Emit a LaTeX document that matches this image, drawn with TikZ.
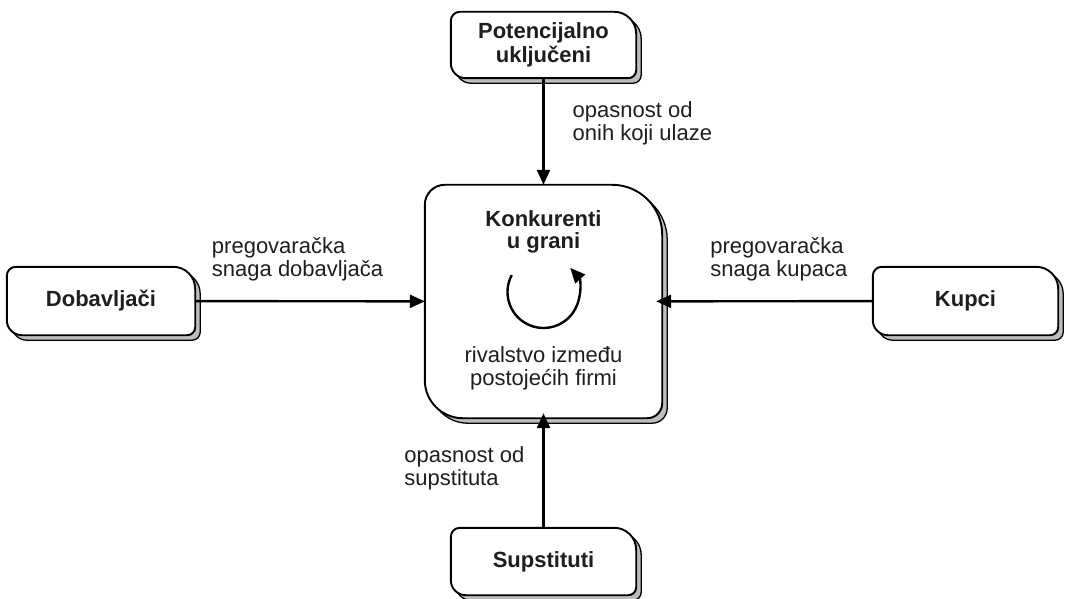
\documentclass[tikz,border=0pt]{standalone}
\usepackage{fontspec}
\setmainfont{Liberation Sans}
\usepackage{tikz}
\usetikzlibrary{arrows.meta,backgrounds}

\definecolor{tekst}{HTML}{1E1E1E}
\definecolor{sjencasiva}{HTML}{BDBDBD}

\tikzset{
  kutija/.style={rectangle, inner sep=0pt, align=center, minimum width=185, minimum height=67,
    font=\fontsize{22}{24}\selectfont\bfseries},
  natpis/.style={align=left, inner sep=0pt},
  strelica/.style={line width=2.4pt, -{Triangle[length=15pt,width=13pt]}},
  sjena/.style={draw=black, fill=sjencasiva, line width=1.3pt},
  ploha/.style={draw=black, fill=white, line width=1.9pt},
}

% #1 cvor, #2..#5 radijusi: gore lijevo, gore desno, dolje desno, dolje lijevo
\newcommand{\ploca}[5]{%
  \filldraw[sjena] ([shift={(5,-5)},yshift=-#2]#1.north west) arc[start angle=180,end angle=90,radius=#2]
    -- ([shift={(5,-5)},xshift=-#3]#1.north east) arc[start angle=90,end angle=0,radius=#3]
    -- ([shift={(5,-5)},yshift=#4]#1.south east) arc[start angle=0,end angle=-90,radius=#4]
    -- ([shift={(5,-5)},xshift=#5]#1.south west) arc[start angle=270,end angle=180,radius=#5]
    -- cycle;
  \filldraw[ploha] ([yshift=-#2]#1.north west) arc[start angle=180,end angle=90,radius=#2]
    -- ([xshift=-#3]#1.north east) arc[start angle=90,end angle=0,radius=#3]
    -- ([yshift=#4]#1.south east) arc[start angle=0,end angle=-90,radius=#4]
    -- ([xshift=#5]#1.south west) arc[start angle=270,end angle=180,radius=#5]
    -- cycle;
}

\begin{document}
\begin{tikzpicture}[x=1pt, y=1pt, every node/.style={text=tekst, font=\fontsize{22}{23}\selectfont}]
  \useasboundingbox (0,0) rectangle (1066,-599);

  \node[kutija, minimum height=66] (gore) at (543.5,-45) {Potencijalno\\uključeni};
  \node[kutija, minimum width=237, minimum height=233] (centar) at (543.5,-301.5) {};
  \node[kutija, minimum width=188, minimum height=68] (lijevo) at (101,-301) {Dobavljači};
  \node[kutija, minimum height=68] (desno) at (965.5,-301) {Kupci};
  \node[kutija] (dolje) at (543.5,-561.5) {Supstituti};

  \begin{scope}[on background layer]
    \ploca{gore}{9}{22}{8}{15}
    \ploca{centar}{20}{50}{15}{38}
    \ploca{lijevo}{9}{22}{8}{15}
    \ploca{desno}{9}{22}{8}{15}
    \ploca{dolje}{9}{22}{8}{15}
  \end{scope}

  \node[anchor=north, align=center, inner sep=0pt, font=\fontsize{22}{22}\selectfont\bfseries]
    (konkurenti) at ([yshift=-26]centar.north) {Konkurenti\\u grani};
  \node[anchor=north, align=center, inner sep=0pt]
    (rivalstvo) at ([yshift=-44.5]centar.center) {rivalstvo između\\postojećih firmi};
  \draw[strelica] ([shift={(152:36)},yshift=9.5]centar.center) arc[start angle=152,end angle=402,radius=36];
  %
  \draw[strelica] (gore) -- (centar)
    node[natpis, pos=0.42, anchor=west, xshift=28] (ulaze) {opasnost od\\onih koji ulaze};
  \draw[strelica] (lijevo) -- (centar)
    node[natpis, pos=0.446, anchor=south, yshift=19] (dobavljaci) {pregovaračka\\snaga dobavljača};
  \draw[strelica, shorten >=-6pt] (desno) -- (centar)
    node[natpis, pos=0.446, anchor=south, yshift=19] (kupci) {pregovaračka\\snaga kupaca};
  \draw[strelica, shorten >=-5pt] (dolje) -- (centar)
    node[natpis, pos=0.54, anchor=east, xshift=-18] (supstituti) {opasnost od\\supstituta};
\end{tikzpicture}
\end{document}
